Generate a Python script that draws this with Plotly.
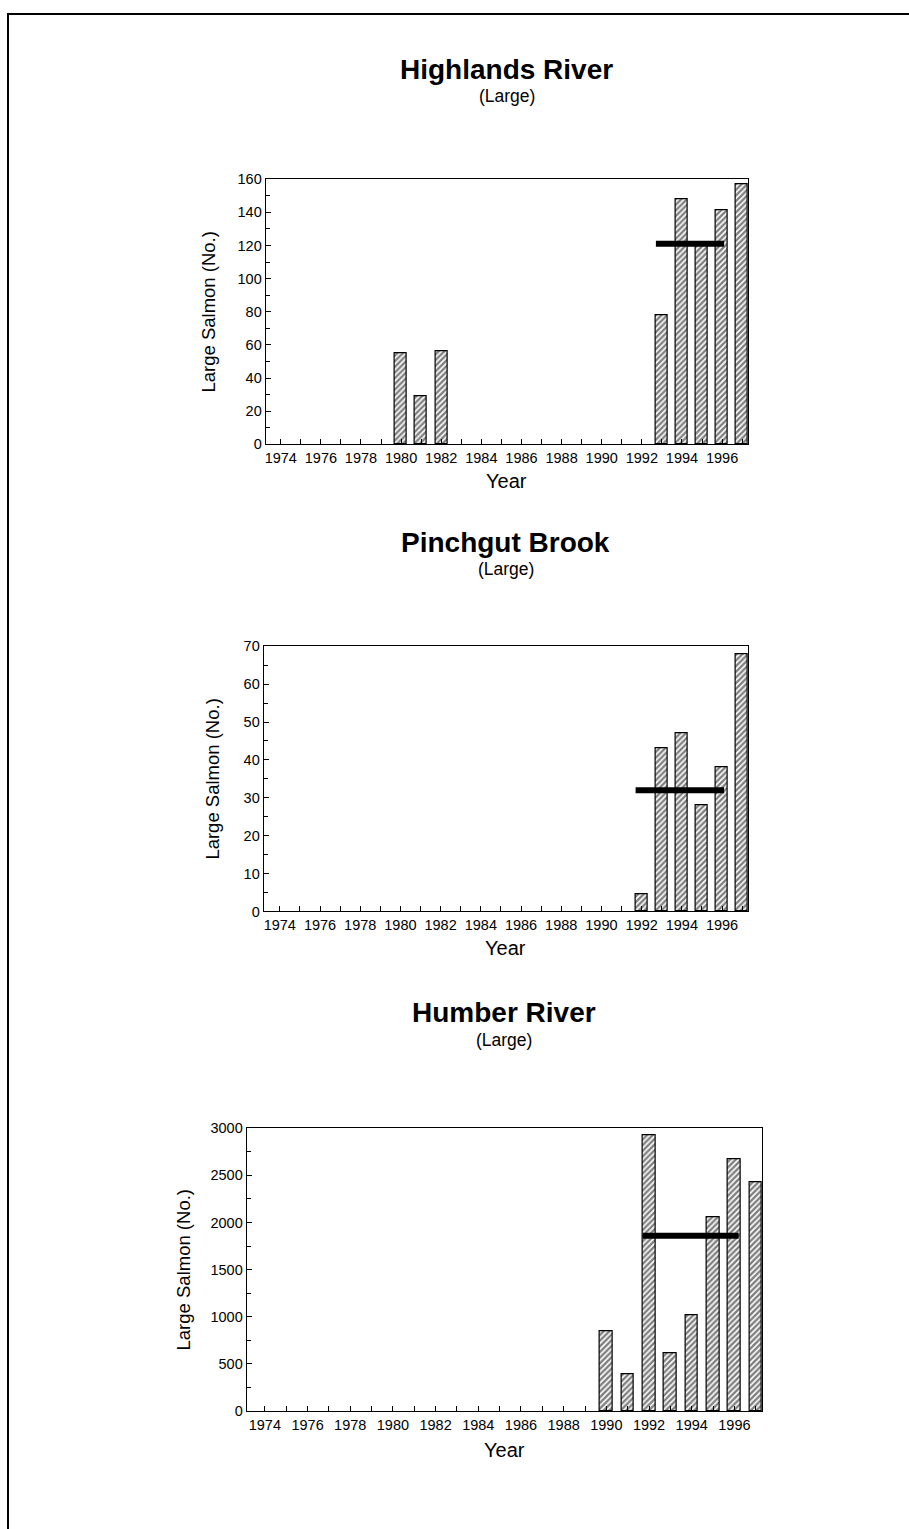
import plotly.graph_objects as go

W, H = 909, 1529

# Annual counts of large salmon per river
highlands_years = [1980, 1981, 1982, 1993, 1994, 1995, 1996, 1997]
highlands_counts = [55, 29, 56, 78, 148, 120, 141, 157]
highlands_mean = 121
highlands_mean_span = [1992.7, 1996.1]

pinchgut_years = [1992, 1993, 1994, 1995, 1996, 1997]
pinchgut_counts = [4.5, 43, 47, 28, 38, 68]
pinchgut_mean = 32
pinchgut_mean_span = [1991.7, 1996.1]

humber_years = [1990, 1991, 1992, 1993, 1994, 1995, 1996, 1997]
humber_counts = [850, 390, 2930, 620, 1020, 2060, 2670, 2430]
humber_mean = 1860
humber_mean_span = [1991.7, 1996.2]

river_names = ["Highlands River", "Pinchgut Brook", "Humber River"]
subtitle = "(Large)"
y_title = "Large Salmon (No.)"
x_title = "Year"


def px_x(p):
    return p / W


def px_y(p):
    return 1 - p / H


# plot-area boxes in pixels: left, right, top, bottom
panels = [
    dict(box=(265, 748, 173, 441), xr=[1973.25, 1997.3], yr=[0, 160], dt=20,
         years=highlands_years, vals=highlands_counts, mean=highlands_mean,
         span=highlands_mean_span, title_y=62, sub_y=89, ytitle_x=208, year_y=478),
    dict(box=(263, 748, 645, 913), xr=[1973.2, 1997.3], yr=[0, 70], dt=10,
         years=pinchgut_years, vals=pinchgut_counts, mean=pinchgut_mean,
         span=pinchgut_mean_span, title_y=540, sub_y=567, ytitle_x=212, year_y=950),
    dict(box=(246, 762, 1132, 1418), xr=[1973.15, 1997.3], yr=[0, 3000], dt=500,
         years=humber_years, vals=humber_counts, mean=humber_mean,
         span=humber_mean_span, title_y=1015, sub_y=1043, ytitle_x=183, year_y=1457),
]

fig = go.Figure()
annotations = []
FONT = "Liberation Sans, Arial, sans-serif"

for i, p in enumerate(panels):
    n = "" if i == 0 else str(i + 1)
    xa, ya = "x" + n, "y" + n
    l, r, t, b = p["box"]

    fig.add_trace(go.Bar(
        x=p["years"], y=p["vals"], width=0.6,
        marker=dict(color="white", line=dict(color="black", width=1.2),
                    pattern=dict(shape="/", fgcolor="black", bgcolor="white",
                                 size=4, solidity=0.6)),
        xaxis=xa, yaxis=ya, showlegend=False))

    fig.add_trace(go.Scatter(
        x=p["span"], y=[p["mean"], p["mean"]], mode="lines",
        line=dict(color="black", width=6),
        xaxis=xa, yaxis=ya, showlegend=False))

    axis_common = dict(showline=True, linecolor="black", linewidth=1.2, mirror=True,
                       ticks="inside", ticklen=5, tickcolor="black", showgrid=False,
                       zeroline=False, tickfont=dict(family=FONT, size=14.5, color="black"))

    fig.update_layout(**{
        ("xaxis" + n): dict(domain=[px_x(l), px_x(r)], range=p["xr"], anchor=ya,
                            tick0=1974, dtick=2, tickformat="d",
                            minor=dict(dtick=1, ticks="inside", ticklen=5, tickcolor="black"),
                            **axis_common),
        ("yaxis" + n): dict(domain=[px_y(b), px_y(t)], range=p["yr"], anchor=xa,
                            dtick=p["dt"],
                            minor=dict(dtick=p["dt"] / 2, ticks="inside", ticklen=4,
                                       tickcolor="black"),
                            **axis_common),
    })

    cx = px_x((l + r) / 2)
    common = dict(xref="paper", yref="paper", showarrow=False,
                  xanchor="center", yanchor="middle")
    annotations += [
        dict(text="<b>" + river_names[i] + "</b>", x=cx, y=px_y(p["title_y"]),
             font=dict(family=FONT, size=28, color="black"), **common),
        dict(text=subtitle, x=cx, y=px_y(p["sub_y"]),
             font=dict(family=FONT, size=17.5, color="black"), **common),
        dict(text=x_title, x=cx, y=px_y(p["year_y"]),
             font=dict(family=FONT, size=20, color="black"), **common),
        dict(text=y_title, x=px_x(p["ytitle_x"]), y=px_y((t + b) / 2), textangle=-90,
             font=dict(family=FONT, size=18.5, color="black"), **common),
    ]

# outer frame of the page
fig.add_shape(type="rect", xref="paper", yref="paper",
              x0=px_x(7), x1=px_x(960), y0=px_y(1600), y1=px_y(6),
              line=dict(color="black", width=2), layer="below")

fig.update_layout(
    width=W, height=H, margin=dict(l=0, r=0, t=0, b=0),
    paper_bgcolor="white", plot_bgcolor="white",
    annotations=annotations, bargap=0,
)

fig.write_html("out.html")
